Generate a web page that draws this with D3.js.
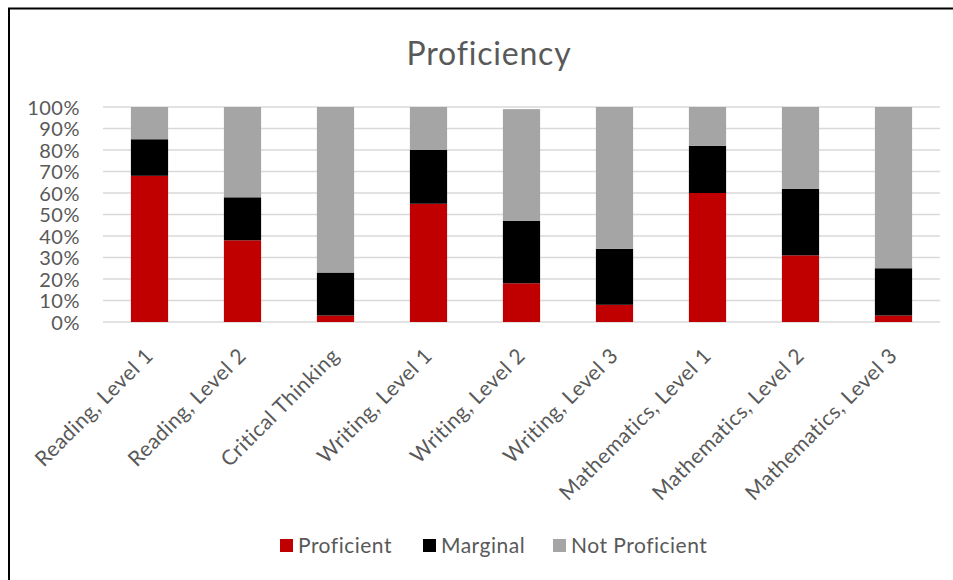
<!DOCTYPE html>
<html>
<head>
<meta charset="utf-8">
<script src="https://cdn.jsdelivr.net/npm/d3@7"></script>
<style>
  html, body { margin: 0; padding: 0; background: #fff; overflow: hidden; }
  svg { display: block; font-family: Lato, "Open Sans", sans-serif; }
</style>
</head>
<body>
<svg id="chart" width="953" height="580"></svg>
<script>
// ── Data ──────────────────────────────────────────────────────────────────
var categories = [
  'Reading, Level 1', 'Reading, Level 2', 'Critical Thinking',
  'Writing, Level 1', 'Writing, Level 2', 'Writing, Level 3',
  'Mathematics, Level 1', 'Mathematics, Level 2', 'Mathematics, Level 3'
];
var proficient    = [68, 38, 3, 55, 18, 8, 60, 31, 3];
var marginal      = [17, 20, 20, 25, 29, 26, 22, 31, 22];
var notProficient = [15, 42, 77, 20, 52, 66, 18, 38, 75];
var seriesNames   = ['Proficient', 'Marginal', 'Not Proficient'];
var yTicks        = [0, 10, 20, 30, 40, 50, 60, 70, 80, 90, 100];

var colors = { 'Proficient': '#c00000', 'Marginal': '#000000', 'Not Proficient': '#a5a5a5' };
var textColor = '#595959';

// ── Layout ────────────────────────────────────────────────────────────────
var svg = d3.select('#chart');
var margin = { left: 103, right: 13, top: 107, bottom: 258 };
var width = 953, height = 580;

var rows = categories.map(function(c, i) {
  return { cat: c, 'Proficient': proficient[i], 'Marginal': marginal[i], 'Not Proficient': notProficient[i] };
});

var x = d3.scaleBand()
  .domain(categories)
  .range([margin.left, width - margin.right])
  .paddingInner(0.6)
  .paddingOuter(0.3);

var y = d3.scaleLinear()
  .domain([0, 100])
  .range([height - margin.bottom, margin.top]);

// chart frame: only top and left edges fall inside the picture
svg.append('path')
  .attr('d', 'M9,' + height + 'V8.5H' + width)
  .attr('fill', 'none')
  .attr('stroke', '#000')
  .attr('stroke-width', 2);

// title
svg.append('text')
  .attr('x', 489).attr('y', 65)
  .attr('text-anchor', 'middle')
  .attr('font-size', 32)
  .attr('letter-spacing', 0.8)
  .attr('fill', textColor)
  .text('Proficiency');

// gridlines
svg.append('g')
  .selectAll('line')
  .data(yTicks)
  .join('line')
  .attr('x1', margin.left).attr('x2', width - margin.right)
  .attr('y1', function(d) { return y(d); })
  .attr('y2', function(d) { return y(d); })
  .attr('stroke', '#d9d9d9')
  .attr('stroke-width', 1.3);

// y axis labels
var yAxis = d3.axisLeft(y)
  .tickValues(yTicks)
  .tickFormat(function(d) { return d + '%'; })
  .tickSize(0)
  .tickPadding(23);

var yG = svg.append('g')
  .attr('transform', 'translate(' + margin.left + ',0)')
  .call(yAxis);
yG.select('.domain').remove();
yG.selectAll('text')
  .attr('font-family', 'Lato, sans-serif')
  .attr('font-size', 20)
  .attr('letter-spacing', 0.5)
  .attr('fill', textColor)
  .attr('dy', '0.36em');

// stacked bars
var stack = d3.stack().keys(seriesNames);
var layers = stack(rows);

svg.append('g')
  .selectAll('g')
  .data(layers)
  .join('g')
  .attr('fill', function(d) { return colors[d.key]; })
  .selectAll('rect')
  .data(function(d) { return d; })
  .join('rect')
  .attr('x', function(d) { return x(d.data.cat); })
  .attr('width', x.bandwidth())
  .attr('y', function(d) { return y(d[1]); })
  .attr('height', function(d) { return y(d[0]) - y(d[1]); });

// x labels, rotated
svg.append('g')
  .selectAll('text')
  .data(categories)
  .join('text')
  .attr('transform', function(d) {
    var cx = x(d) + x.bandwidth() / 2;
    return 'translate(' + (cx + 5) + ',' + 357 + ') rotate(-45)';
  })
  .attr('text-anchor', 'end')
  .attr('font-size', 21)
  .attr('letter-spacing', 0.5)
  .attr('fill', textColor)
  .text(function(d) { return d; });

// legend
var legendItems = [
  { name: 'Proficient', x: 280 },
  { name: 'Marginal', x: 423 },
  { name: 'Not Proficient', x: 553 }
];
var lg = svg.append('g').selectAll('g')
  .data(legendItems)
  .join('g')
  .attr('transform', function(d) { return 'translate(' + d.x + ',539)'; });
lg.append('rect')
  .attr('width', 13).attr('height', 13)
  .attr('fill', function(d) { return colors[d.name]; });
lg.append('text')
  .attr('x', 18).attr('y', 14)
  .attr('font-size', 21)
  .attr('letter-spacing', 0.5)
  .attr('fill', textColor)
  .text(function(d) { return d.name; });
</script>
</body>
</html>
